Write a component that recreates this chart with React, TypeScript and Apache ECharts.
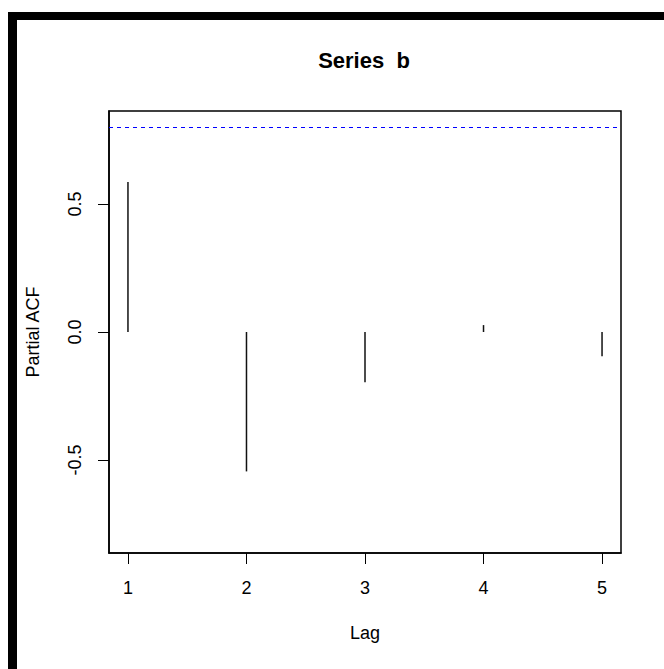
import React, { useEffect, useRef } from "react";
import * as echarts from "echarts";

const lags = [1, 2, 3, 4, 5];
const pacfValues = [0.586, -0.545, -0.196, 0.027, -0.095];
const confLimit = 0.8;
const xTicks = [1, 2, 3, 4, 5];
const yTicks = [-0.5, 0, 0.5];

const FONT = "Liberation Sans, Arial, sans-serif";

export default function App() {
  const ref = useRef<HTMLDivElement>(null);
  useEffect(() => {
    document.body.style.margin = "0";
    const chart = echarts.init(ref.current!, undefined, { renderer: "svg" });
    const data = lags.map((l, i) => [l, pacfValues[i]]);
    chart.setOption({
      animation: false,
      backgroundColor: "#fff",
      title: {
        text: "Series  b",
        left: 359,
        textAlign: "center",
        top: 44,
        textStyle: { fontFamily: FONT, fontSize: 22, fontWeight: "bold", color: "#000" },
      },
      grid: {
        left: 109,
        top: 111,
        right: 43,
        bottom: 116,
        show: true,
        borderColor: "#000",
        borderWidth: 1.5,
        backgroundColor: "transparent",
      },
      xAxis: {
        type: "value",
        min: 0.84,
        max: 5.16,
        name: "Lag",
        nameLocation: "middle",
        nameGap: 71,
        nameTextStyle: { fontFamily: FONT, fontSize: 18, color: "#000" },
        axisLine: { show: true, onZero: false, lineStyle: { color: "#000", width: 1.5 } },
        splitLine: { show: false },
        axisTick: { show: true, length: 11, inside: false, customValues: xTicks, lineStyle: { color: "#000", width: 1 } },
        axisLabel: {
          customValues: xTicks,
          margin: 26,
          fontFamily: FONT,
          fontSize: 18,
          color: "#000",
          formatter: (v: number) => String(v),
        },
      },
      yAxis: {
        type: "value",
        min: -0.864,
        max: 0.864,
        name: "Partial ACF",
        nameLocation: "middle",
        nameGap: 67,
        nameRotate: 90,
        nameTextStyle: { fontFamily: FONT, fontSize: 18, color: "#000" },
        axisLine: { show: true, onZero: false, lineStyle: { color: "#000", width: 1.5 } },
        splitLine: { show: false },
        axisTick: { show: true, length: 11, inside: false, customValues: yTicks, lineStyle: { color: "#000", width: 1 } },
        axisLabel: {
          customValues: yTicks,
          rotate: 90,
          margin: 25,
          fontFamily: FONT,
          fontSize: 18,
          color: "#000",
          formatter: (v: number) => v.toFixed(1),
        },
      },
      series: [
        {
          type: "custom",
          data,
          renderItem: (params: any, api: any) => {
            const x = api.value(0);
            const y = api.value(1);
            const p0 = api.coord([x, 0]);
            const p1 = api.coord([x, y]);
            return {
              type: "line",
              shape: { x1: p0[0], y1: p0[1], x2: p1[0], y2: p1[1] },
              style: { stroke: "#111", lineWidth: 1.5 },
            };
          },
          markLine: {
            silent: true,
            symbol: "none",
            label: { show: false },
            lineStyle: { color: "#0000ff", type: [4, 4], width: 1 },
            data: [{ yAxis: confLimit }],
          },
        },
      ],
      graphic: [
        { type: "rect", shape: { x: 8, y: 12, width: 656, height: 8 }, style: { fill: "#000" } },
        { type: "rect", shape: { x: 8, y: 12, width: 9, height: 657 }, style: { fill: "#000" } },
      ],
    });
    return () => chart.dispose();
  }, []);
  return <div ref={ref} style={{ width: 664, height: 669 }} />;
}
